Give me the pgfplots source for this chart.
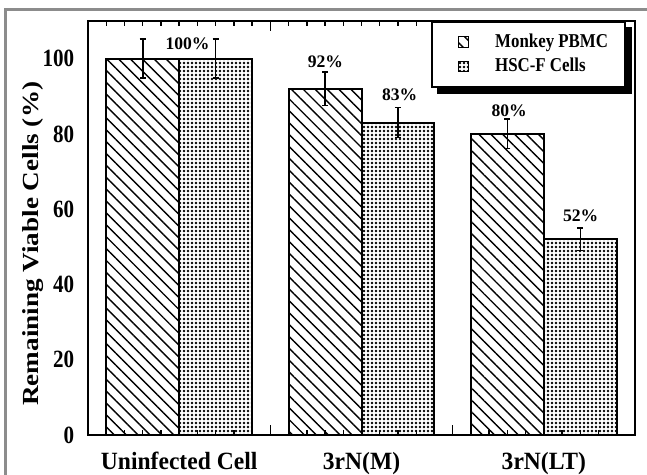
\documentclass[border=0pt]{standalone}
\usepackage{fontspec}
\setmainfont{Liberation Serif}
\newfontfamily\condfont{Liberation Serif}[FakeStretch=0.85]
\newfontfamily\xlabfont{Liberation Serif}[FakeStretch=0.95]
\newfontfamily\legfont{Liberation Serif}[FakeStretch=0.86]
\newfontfamily\widefont{Liberation Serif}[FakeStretch=1.18]
\usepackage{pgfplots}
\pgfplotsset{compat=1.18}
\usepackage{pgfplotstable}
\usetikzlibrary{patterns.meta}

% viability (%) with error bars; xp/xh = bar centres
\pgfplotstableread{
xp    pbmc  perr  xh   hsc  herr
-0.2  100   5.2   0.2  100  5.2
0.8   92    4.4   1.2  83   4.0
1.8   80    3.9   2.2  52   3.0
}\viability

% value labels above the bars
\pgfplotstableread{
x      y      lab
0.046  104.0  100\%
0.802  99.2   92\%
1.209  90.3   83\%
1.810  86.1   80\%
2.202  58.3   52\%
}\labels

\begin{document}
\begin{tikzpicture}
\draw[line width=1.2bp, black!45] (-41.15bp,-30bp) -- (-41.15bp,212.75bp) -- (290bp,212.75bp);
\begin{axis}[
  at={(0,0)}, anchor=south west,
  scale only axis, width=273.5bp, height=207bp,
  xmin=-0.5, xmax=2.5, ymin=0, ymax=110,
  axis line style={line width=1bp},
  /pgf/number format/assume math mode=true,
  tick align=inside,
  xtick pos=both,
  xtick={-0.5,0.5,1.5,2.5}, xticklabels={},
  minor xtick={-0.4,-0.3,...,2.45},
  major tick length=5bp, minor tick length=2.7bp,
  tick style={line width=0.7bp, black},
  extra x ticks={0,1,2},
  extra x tick labels={Uninfected Cell,3rN(M),3rN(LT)},
  extra x tick style={major tick length=0pt},
  xticklabel style={font=\xlabfont\bfseries\fontsize{12.4bp}{14bp}\selectfont, yshift=-5bp},
  ytick={0,20,...,100},
  ytick style={draw=none},
  yticklabel style={font=\condfont\bfseries\fontsize{12.4bp}{14bp}\selectfont, xshift=-3.4bp},
  ylabel={Remaining Viable Cells (\%)},
  ylabel style={at={(axis description cs:-0.1,0.462)}, anchor=center,
    font=\widefont\bfseries\fontsize{11.5bp}{14bp}\selectfont},
  legend style={name=leg, at={(0.9835,1)}, anchor=north east, draw=black, line width=0.8bp,
    fill=white, inner xsep=13bp, inner ysep=4bp, row sep=0bp,
    font=\legfont\bfseries\fontsize{9.8bp}{10bp}\selectfont},
  legend cell align=left,
  legend image code/.code={\draw[#1, line width=0.6bp] (0bp,-2.6bp) rectangle (5bp,2.6bp);},
]
\addplot[ybar, bar width=0.4, bar shift=0, draw=black, line width=1bp,
  pattern={Lines[angle=-45,distance=4.2bp,line width=0.7bp]},
  error bars/.cd, y dir=both, y explicit,
  error bar style={line width=0.8bp, black},
  error mark options={rotate=90, mark size=1.5bp, line width=0.8bp, black}]
  table[x=xp, y=pbmc, y error=perr] {\viability};
\addlegendentry{\hspace*{11bp}\makebox[50bp][l]{Monkey PBMC}}
\addplot[ybar, bar width=0.4, bar shift=0, draw=black, line width=1bp,
  pattern={Dots[distance=2bp,radius=0.7bp]},
  error bars/.cd, y dir=both, y explicit,
  error bar style={line width=0.8bp, black},
  error mark options={rotate=90, mark size=1.5bp, line width=0.8bp, black}]
  table[x=xh, y=hsc, y error=herr] {\viability};
\addlegendentry{\hspace*{11bp}\makebox[50bp][l]{HSC-F Cells}}
\addplot[only marks, mark=none, forget plot, nodes near coords,
  point meta=explicit symbolic,
  every node near coord/.append style={anchor=center,
    font=\bfseries\fontsize{8.8bp}{10bp}\selectfont}]
  table[x=x, y=y, meta=lab] {\labels};
\end{axis}
% legend shadow
\fill[black] ([yshift=-3bp]leg.north east) rectangle ([xshift=3bp,yshift=-3bp]leg.south east);
\fill[black] ([xshift=3bp]leg.south west) rectangle ([xshift=3bp,yshift=-3bp]leg.south east);
\pgfresetboundingbox
\path[use as bounding box] (-44bp,-20bp) rectangle (279.5bp,217.5bp);
\end{tikzpicture}
\end{document}
